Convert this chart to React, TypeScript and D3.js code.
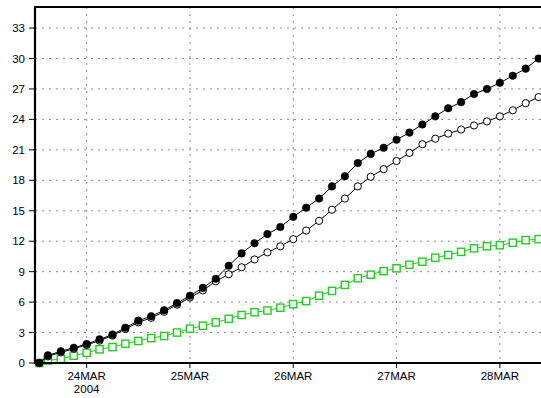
import React from "react";
import * as d3 from "d3";

const W = 541;
const H = 398;

// times: first point 23MAR 13:00, then 3-hourly from 23MAR 15:00 to 28MAR 09:00
const startTime = new Date(2004, 2, 23, 15, 0);
const firstTime = new Date(2004, 2, 23, 13, 0);

const blackValues = [
  0, 0.75, 1.15, 1.5, 1.87, 2.33, 2.8, 3.48, 4.17, 4.6, 5.2, 5.9, 6.63, 7.4, 8.3,
  9.58, 10.8, 11.8, 12.7, 13.4, 14.4, 15.3, 16.2, 17.4, 18.4, 19.7, 20.6, 21.2,
  22.0, 22.7, 23.5, 24.3, 25.1, 25.7, 26.5, 27.0, 27.6, 28.3, 29.0, 30.0,
];
const openValues = [
  0, 0.65, 1.05, 1.4, 1.78, 2.2, 2.7, 3.35, 4.0, 4.45, 5.05, 5.75, 6.45, 7.15, 8.05,
  8.74, 9.43, 10.2, 10.9, 11.5, 12.2, 13.05, 14.0, 15.1, 16.2, 17.4, 18.35, 19.1,
  19.9, 20.7, 21.55, 22.1, 22.6, 23.0, 23.4, 23.8, 24.3, 24.9, 25.6, 26.2,
];
const greenValues = [
  0, 0.25, 0.4, 0.72, 1.0, 1.35, 1.57, 1.9, 2.17, 2.45, 2.66, 3.0, 3.38, 3.67, 4.0,
  4.35, 4.73, 5.0, 5.17, 5.45, 5.8, 6.1, 6.63, 7.1, 7.7, 8.35, 8.7, 9.05, 9.33,
  9.68, 9.98, 10.37, 10.64, 10.95, 11.3, 11.5, 11.6, 11.85, 12.1, 12.2,
];

const yTicks = [0, 3, 6, 9, 12, 15, 18, 21, 24, 27, 30, 33];
const xTickDates = [24, 25, 26, 27, 28].map((d) => new Date(2004, 2, d));
const xTickLabels = ["24MAR", "25MAR", "26MAR", "27MAR", "28MAR"];
const yearLabel = "2004";

const times = blackValues.map((_, i) =>
  i === 0 ? firstTime : d3.timeHour.offset(startTime, 3 * (i - 1))
);

const x = d3
  .scaleTime()
  .domain([new Date(2004, 2, 23, 12), new Date(2004, 2, 28, 12)])
  .range([35, 551.5]);
const y = d3.scaleLinear().domain([0, 35]).range([363, 7.75]);

const FONT = "'Liberation Sans', Arial, sans-serif";
const GREEN = "#22cc22";

export default function App() {
  const mk = (vals: number[]) =>
    d3
      .line<number>()
      .x((_, i) => x(times[i]))
      .y((v) => y(v))(vals) || "";

  const left = 35;
  const right = W + 20;
  const top = 7;
  const bottom = 363;

  return (
    <div style={{ position: "fixed", left: 0, top: 0 }}>
      <svg width={W} height={H} style={{ display: "block", background: "#fff" }}>
        <defs>
          <clipPath id="plot">
            <rect x={left} y={top - 6} width={right - left} height={bottom - top + 12} />
          </clipPath>
        </defs>
        {/* grid */}
        {yTicks
          .filter((t) => t > 0)
          .map((t) => (
            <line
              key={"gy" + t}
              x1={left}
              x2={W}
              y1={y(t)}
              y2={y(t)}
              stroke="#8a8a8a"
              strokeWidth={1}
              strokeDasharray="2,5"
            />
          ))}
        {xTickDates.map((d, i) => (
          <line
            key={"gx" + i}
            x1={x(d)}
            x2={x(d)}
            y1={top}
            y2={bottom}
            stroke="#8a8a8a"
            strokeWidth={1}
            strokeDasharray="2,5"
          />
        ))}
        <g clipPath="url(#plot)">
          {/* green series */}
          <path d={mk(greenValues)} fill="none" stroke={GREEN} strokeWidth={1} />
          {greenValues.map((v, i) => (
            <rect
              key={"g" + i}
              x={x(times[i]) - 3.6}
              y={y(v) - 3.6}
              width={7.2}
              height={7.2}
              fill="#fff"
              stroke={GREEN}
              strokeWidth={1.4}
            />
          ))}
          {/* open series */}
          <path d={mk(openValues)} fill="none" stroke="#000" strokeWidth={1} />
          {openValues.map((v, i) => (
            <circle
              key={"o" + i}
              cx={x(times[i])}
              cy={y(v)}
              r={3.6}
              fill="#fff"
              stroke="#000"
              strokeWidth={1}
            />
          ))}
          {/* black series */}
          <path d={mk(blackValues)} fill="none" stroke="#000" strokeWidth={1} />
          {blackValues.map((v, i) => (
            <circle
              key={"b" + i}
              cx={x(times[i])}
              cy={y(v)}
              r={3.8}
              fill="#000"
              stroke="#000"
              strokeWidth={0.5}
            />
          ))}
        </g>
        {/* frame */}
        <line x1={left} x2={W} y1={top} y2={top} stroke="#000" strokeWidth={2.2} />
        <line x1={left} x2={left} y1={top - 1} y2={bottom + 1} stroke="#000" strokeWidth={2.2} />
        <line x1={left - 1} x2={W} y1={bottom} y2={bottom} stroke="#000" strokeWidth={2.2} />
        {/* y ticks */}
        {yTicks.map((t) => (
          <g key={"yt" + t}>
            <line x1={left - 6} x2={left} y1={y(t)} y2={y(t)} stroke="#000" strokeWidth={1} />
            <text
              x={25}
              y={y(t) + 4}
              textAnchor="end"
              fontFamily={FONT}
              fontSize={11.5}
              fill="#000"
            >
              {t}
            </text>
          </g>
        ))}
        {/* x ticks */}
        {xTickDates.map((d, i) => (
          <g key={"xt" + i}>
            <line x1={x(d)} x2={x(d)} y1={bottom} y2={bottom + 5} stroke="#000" strokeWidth={1} />
            <text
              x={x(d)}
              y={380}
              textAnchor="middle"
              fontFamily={FONT}
              fontSize={11.5}
              fill="#000"
            >
              {xTickLabels[i]}
            </text>
          </g>
        ))}
        <text
          x={x(xTickDates[0])}
          y={393}
          textAnchor="middle"
          fontFamily={FONT}
          fontSize={11.5}
          fill="#000"
        >
          {yearLabel}
        </text>
      </svg>
    </div>
  );
}
